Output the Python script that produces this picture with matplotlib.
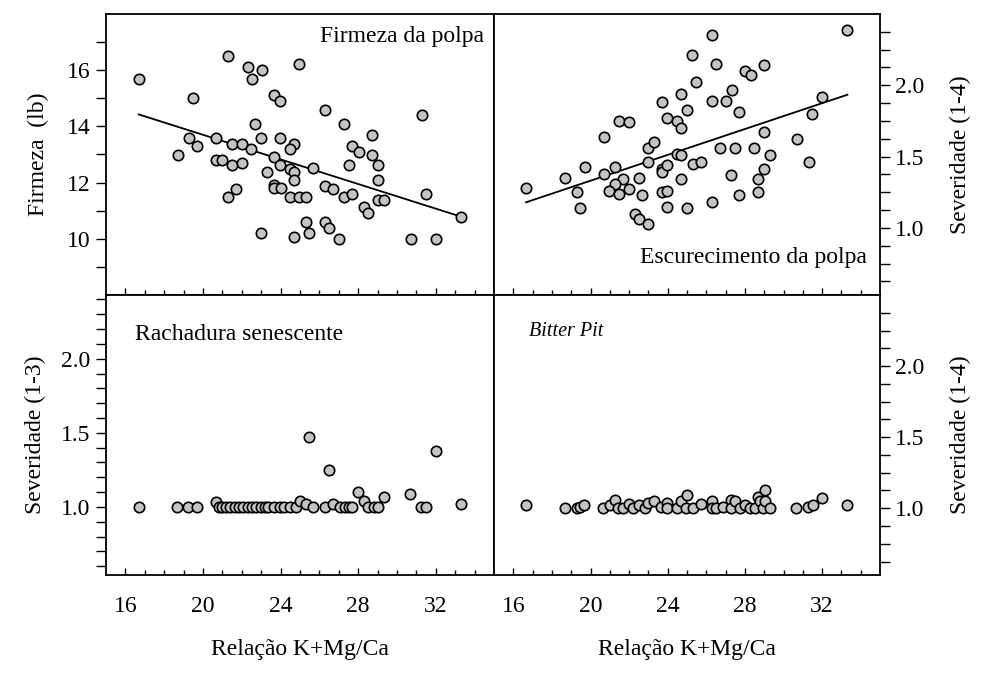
import matplotlib
matplotlib.use("Agg")
import matplotlib.pyplot as plt
import numpy as np
from matplotlib.ticker import FixedLocator

plt.rcParams['font.family'] = ['Liberation Serif', 'DejaVu Serif']

# Firmeza da polpa (lb)
firm_x = [16.69, 21.29, 22.30, 22.50, 23.02, 24.95, 19.50, 23.67, 23.98, 22.69,
          19.27, 19.69, 18.69, 20.67, 23.00, 23.98, 21.48, 22.00, 22.48, 24.71,
          24.50, 20.67, 20.98, 21.50, 22.00, 23.67, 23.98, 23.29, 24.50, 24.71,
          24.71, 23.67, 23.67, 24.02, 21.69, 21.29, 24.50, 24.95, 25.30, 23.00,
          24.71, 26.29, 27.29, 31.31, 28.71, 27.67, 28.02, 28.71, 25.69, 27.50,
          29.00, 29.00, 26.29, 26.69, 27.29, 27.69, 29.00, 29.35, 31.48, 28.29,
          28.50, 33.28, 25.30, 26.29, 26.52, 25.48, 27.00, 30.71, 31.99]
firm_y = [15.70, 16.51, 16.10, 15.70, 16.00, 16.21, 15.00, 15.11, 14.90, 14.10,
          13.58, 13.29, 12.99, 13.59, 13.59, 13.59, 13.38, 13.38, 13.20, 13.38,
          13.20, 12.79, 12.79, 12.61, 12.69, 12.90, 12.61, 12.38, 12.49, 12.37,
          12.10, 11.93, 11.80, 11.80, 11.77, 11.50, 11.50, 11.50, 11.50, 10.19,
          10.08, 14.60, 14.10, 14.39, 13.70, 13.30, 13.08, 12.99, 12.51, 12.61,
          12.61, 12.10, 11.89, 11.77, 11.50, 11.60, 11.38, 11.38, 11.60, 11.12,
          10.90, 10.79, 10.58, 10.58, 10.38, 10.19, 9.99, 9.99, 9.99]
firm_fit = (18.08, -0.219)  # intercept, slope

# Escurecimento da polpa, severidade (1-4)
esc_x = [16.66, 18.67, 19.71, 19.31, 19.48, 20.69, 21.48, 21.99, 20.69, 21.29,
         21.69, 21.29, 20.98, 21.48, 21.99, 22.50, 22.69, 22.29, 22.50, 22.98,
         22.98, 23.29, 22.98, 23.69, 23.98, 23.69, 23.72, 23.98, 23.69, 23.98,
         23.98, 24.69, 25.00, 24.48, 24.71, 24.48, 24.71, 24.69, 25.00, 25.28,
         26.29, 26.49, 25.47, 28.00, 28.30, 29.00, 27.31, 26.29, 27.00, 27.71,
         29.00, 32.00, 31.48, 33.31, 30.68, 26.71, 27.48, 28.48, 29.30, 25.33,
         25.71, 31.31, 27.29, 29.00, 28.69, 28.69, 27.71, 26.29]
esc_y = [1.28, 1.35, 1.43, 1.25, 1.14, 1.64, 1.75, 1.74, 1.38, 1.43,
         1.34, 1.31, 1.26, 1.24, 1.27, 1.35, 1.23, 1.10, 1.06, 1.03,
         1.56, 1.60, 1.46, 1.88, 1.77, 1.41, 1.39, 1.44, 1.25, 1.26,
         1.15, 1.94, 1.83, 1.75, 1.70, 1.52, 1.51, 1.34, 1.14, 2.21,
         2.35, 2.15, 2.02, 2.10, 2.07, 2.14, 1.97, 1.89, 1.89, 1.81,
         1.67, 1.92, 1.80, 2.39, 1.62, 1.56, 1.56, 1.56, 1.51, 1.45,
         1.46, 1.46, 1.37, 1.41, 1.34, 1.25, 1.23, 1.18]
esc_fit = (0.425, 0.0453)

# Rachadura senescente, severidade (1-3)
rach_x = [16.69, 18.67, 19.22, 19.69, 20.67, 20.80, 20.98, 21.20, 21.38, 21.67,
          21.85, 22.07, 22.30, 22.50, 22.75, 23.00, 23.20, 23.36, 23.67, 23.97,
          24.20, 24.48, 24.79, 25.00, 25.29, 25.69, 25.48, 26.29, 26.48, 26.69,
          27.04, 27.33, 27.50, 27.67, 27.97, 28.31, 28.48, 28.83, 29.00, 29.31,
          30.69, 31.26, 31.52, 32.02, 33.31]
rach_y = [1.00, 1.00, 1.00, 1.00, 1.03, 1.00, 1.00, 1.00, 1.00, 1.00,
          1.00, 1.00, 1.00, 1.00, 1.00, 1.00, 1.00, 1.00, 1.00, 1.00,
          1.00, 1.00, 1.00, 1.04, 1.02, 1.00, 1.47, 1.00, 1.25, 1.02,
          1.00, 1.00, 1.00, 1.00, 1.10, 1.04, 1.00, 1.00, 1.00, 1.07,
          1.09, 1.00, 1.00, 1.38, 1.02]

# Bitter Pit, severidade (1-4)
bp_x = [16.66, 18.67, 19.28, 19.48, 19.67, 20.66, 21.00, 21.29, 21.43, 21.69,
        21.98, 22.21, 22.50, 22.81, 22.98, 23.29, 23.67, 23.98, 23.98, 24.48,
        24.71, 25.00, 24.97, 25.31, 25.71, 26.29, 26.29, 26.49, 26.86, 27.26,
        27.26, 27.50, 27.73, 27.99, 28.28, 28.50, 28.67, 28.76, 28.93, 29.02,
        29.02, 29.28, 30.66, 31.26, 31.52, 32.00, 33.30]
bp_y = [1.02, 1.00, 1.00, 1.01, 1.02, 1.00, 1.02, 1.06, 1.00, 1.00,
        1.03, 1.00, 1.02, 1.00, 1.04, 1.05, 1.01, 1.04, 1.00, 1.00,
        1.05, 1.09, 1.00, 1.00, 1.03, 1.05, 1.00, 1.00, 1.01, 1.06,
        1.00, 1.05, 1.00, 1.02, 1.00, 1.00, 1.08, 1.05, 1.00, 1.13,
        1.05, 1.00, 1.00, 1.01, 1.02, 1.07, 1.02]

x_major = [16, 20, 24, 28, 32]
x_minor = [v for v in range(16, 35) if v not in x_major]

fig = plt.figure(figsize=(9.88, 6.75), dpi=100)
L, M, R = 0.1073, 0.5, 0.8907
B, H, T = 0.148, 0.563, 0.9793

ax1 = fig.add_axes([L, H, M - L, T - H])
ax2 = fig.add_axes([M, H, R - M, T - H])
ax3 = fig.add_axes([L, B, M - L, H - B])
ax4 = fig.add_axes([M, B, R - M, H - B])

mk = dict(s=56, facecolor='#c4c4c4', edgecolor='black', linewidths=1.2, zorder=3)

ax1.scatter(firm_x, firm_y, **mk)
xl = np.array([min(firm_x), max(firm_x)])
ax1.plot(xl, firm_fit[0] + firm_fit[1] * xl, color='black', lw=1.3, zorder=2)

ax2.scatter(esc_x, esc_y, **mk)
xl = np.array([min(esc_x), max(esc_x)])
ax2.plot(xl, esc_fit[0] + esc_fit[1] * xl, color='black', lw=1.3, zorder=2)

ax3.scatter(rach_x, rach_y, **mk)
ax4.scatter(bp_x, bp_y, **mk)

for ax in (ax1, ax2, ax3, ax4):
    ax.set_xlim(15, 35)
    ax.xaxis.set_major_locator(FixedLocator(x_major))
    ax.xaxis.set_minor_locator(FixedLocator(x_minor))
    ax.tick_params(axis='x', which='major', direction='in', length=5, width=1,
                   labelsize=17, pad=15, top=False)
    ax.tick_params(axis='x', which='minor', direction='in', length=3.5, width=1, top=False)
    for sp in ax.spines.values():
        sp.set_linewidth(1.3)
    ax.tick_params(axis='y', which='both', direction='out', length=7, width=1,
                   labelsize=17, pad=4)

for ax in (ax1, ax2):
    ax.tick_params(axis='x', which='both', labelbottom=False)

# left-hand axes
ax1.set_ylim(8, 18)
ax1.yaxis.set_major_locator(FixedLocator([10, 12, 14, 16]))
ax1.yaxis.set_minor_locator(FixedLocator([9, 11, 13, 15, 17]))
ax1.set_ylabel('Firmeza  (lb)', fontsize=17, labelpad=13)

ax3.set_ylim(0.54, 2.43)
ax3.yaxis.set_major_locator(FixedLocator([1.0, 1.5, 2.0]))
ax3.yaxis.set_minor_locator(FixedLocator(np.arange(0.6, 2.45, 0.1)))
ax3.set_yticklabels(['1.0', '1.5', '2.0'])
ax3.set_ylabel('Severidade (1-3)', fontsize=17, labelpad=11)

# right-hand axes
for ax in (ax2, ax4):
    ax.set_ylim(0.53, 2.5)
    ax.yaxis.tick_right()
    ax.yaxis.set_label_position('right')
    ax.yaxis.set_major_locator(FixedLocator([1.0, 1.5, 2.0]))
    ax.yaxis.set_minor_locator(FixedLocator(np.arange(0.625, 2.49, 0.125)))
    ax.set_yticklabels(['1.0', '1.5', '2.0'])
    ax.tick_params(axis='y', which='both', left=False, right=True)
    ax.set_ylabel('Severidade (1-4)', fontsize=17, labelpad=18)

for ax in (ax3, ax4):
    ax.set_xlabel('Relação K+Mg/Ca', fontsize=17, labelpad=16)

ax1.text(0.975, 0.92, 'Firmeza da polpa', transform=ax1.transAxes,
         ha='right', va='center', fontsize=17)
ax2.text(0.965, 0.135, 'Escurecimento da polpa', transform=ax2.transAxes,
         ha='right', va='center', fontsize=17)
ax3.text(0.075, 0.86, 'Rachadura senescente', transform=ax3.transAxes,
         ha='left', va='center', fontsize=17)
ax4.text(0.09, 0.87, 'Bitter Pit', transform=ax4.transAxes,
         ha='left', va='center', fontsize=14.5, style='italic')

fig.savefig('out.png', dpi=100)
